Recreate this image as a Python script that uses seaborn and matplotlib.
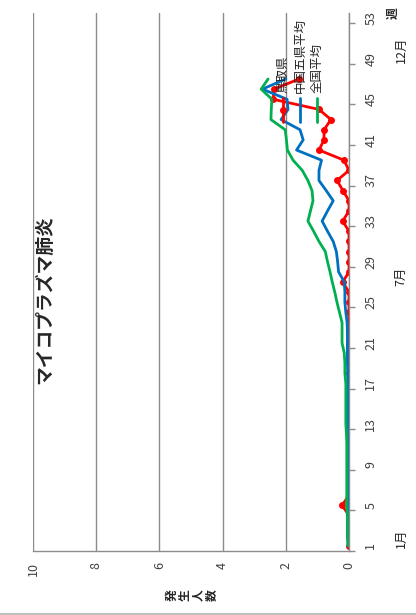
import matplotlib

matplotlib.use("Agg")
import matplotlib.pyplot as plt
import matplotlib.transforms as mtransforms
import numpy as np
import pandas as pd
import seaborn as sns

# weekly reports per sentinel, weeks 1-47
weeks = list(range(1, 48))
tottori = [0, 0, 0, 0, 0.22, 0, 0, 0, 0, 0,
           0, 0, 0, 0, 0, 0, 0, 0, 0, 0,
           0, 0, 0, 0, 0, 0, 0.2, 0, 0, 0,
           0, 0, 0.2, 0, 0, 0.19, 0.38, 0, 0.16, 0.95,
           0.79, 0.79, 0.57, 0.95, 2.4, 2.37, 1.58]
chugoku = [0.03, 0.03, 0.03, 0.03, 0.03, 0.03, 0.03, 0.03, 0.03, 0.03,
           0.03, 0.03, 0.04, 0.04, 0.04, 0.04, 0.04, 0.04, 0.05, 0.05,
           0.05, 0.05, 0.06, 0.1, 0.13, 0.13, 0.15, 0.33, 0.36, 0.4,
           0.5, 0.68, 0.85, 0.68, 0.5, 0.72, 0.95, 0.95, 0.87, 1.66,
           1.45, 1.55, 2.15, 1.93, 1.96, 2.74, 2.0]
national = [0.03, 0.05, 0.05, 0.05, 0.08, 0.07, 0.07, 0.07, 0.07, 0.07,
            0.07, 0.08, 0.1, 0.1, 0.1, 0.1, 0.1, 0.13, 0.13, 0.15,
            0.22, 0.22, 0.22, 0.3, 0.38, 0.45, 0.53, 0.6, 0.68, 0.75,
            0.95, 1.12, 1.3, 1.22, 1.14, 1.17, 1.3, 1.48, 1.77, 1.95,
            1.98, 2.02, 2.47, 2.46, 2.44, 2.78, 2.56]

series_names = ["鳥取県", "中国五県平均", "全国平均"]
series_colors = ["#ff0000", "#0070c0", "#00b050"]
value_ticks = [0, 2, 4, 6, 8, 10]
week_ticks = list(range(1, 54, 4))
month_labels = ["1月", "7月", "12月"]
month_weeks = [1.8, 27.6, 49.9]

df = pd.DataFrame({
    "week": weeks * 3,
    "count": tottori + chugoku + national,
    "series": [n for n in series_names for _ in weeks],
})

sns.set_theme(style="white")
plt.rcParams["font.family"] = ["Noto Sans CJK JP", "DejaVu Sans"]

W, H = 416, 615
fig = plt.figure(figsize=(W / 100, H / 100), dpi=100)
# the chart is drawn turned 90 degrees: values run right-to-left, weeks bottom-to-top
ax = fig.add_axes([33 / W, 1 - 551 / H, 316 / W, 538 / H])

grid_color = "#8c8c8c"
for name, color in zip(series_names, series_colors):
    sub = df[df["series"] == name]
    kw = dict(marker="o", markersize=5, markeredgewidth=0) if name == "鳥取県" else {}
    sns.lineplot(data=sub, x="count", y="week", orient="y", sort=False, ax=ax,
                 color=color, linewidth=2.0, legend=False, **kw)

ax.set_xlim(10, 0)
ax.set_ylim(0.5, 53.5)
ax.set_xlabel("")
ax.set_ylabel("")

ax.set_xticks(value_ticks)
ax.set_xticklabels([str(v) for v in value_ticks], rotation=90, fontsize=9,
                   color="#404040")
ax.xaxis.grid(True, color=grid_color, linewidth=1.0)
ax.yaxis.grid(False)
ax.tick_params(axis="x", length=0, pad=8)

ax.yaxis.tick_right()
ax.set_yticks(week_ticks)
ax.set_yticklabels([str(w) for w in week_ticks], rotation=90, va="center",
                   fontsize=9, color="#404040")
ax.set_yticks(np.arange(0.5, 54, 4), minor=True)
ax.tick_params(axis="y", which="major", length=0, pad=11)
ax.tick_params(axis="y", which="minor", right=True, length=4, width=1,
               color=grid_color, direction="out")

for side in ["top", "left"]:
    ax.spines[side].set_visible(False)
for side in ["right", "bottom"]:
    ax.spines[side].set_color(grid_color)
    ax.spines[side].set_linewidth(1.0)

# month labels beside the week axis
trans = mtransforms.blended_transform_factory(fig.transFigure, ax.transData)
for label, wk in zip(month_labels, month_weeks):
    ax.text(401 / W, wk, label, rotation=90, ha="center", va="center",
            fontsize=9, color="#222222", transform=trans, clip_on=False)

# legend, drawn turned like the rest of the chart
leg_x = [283, 300, 317]
for name, color, lx in zip(series_names, series_colors, leg_x):
    fig.add_artist(plt.Line2D([lx / W, lx / W], [1 - 122 / H, 1 - 98 / H],
                              color=color, linewidth=2.0))
    if name == "鳥取県":
        fig.add_artist(plt.Line2D([lx / W], [1 - 110 / H], color=color,
                                  marker="o", markersize=5, markeredgewidth=0))
    fig.text(lx / W, 1 - 93 / H, name, rotation=90, ha="center", va="bottom",
             fontsize=9, color="#222222")

fig.text(45 / W, 1 - 300 / H, "マイコプラズマ肺炎", rotation=90, ha="center",
         va="center", fontsize=13.5, fontweight="bold")
fig.text(192 / W, 1 - 595 / H, "発\n生\n人\n数", rotation=90, ha="center",
         va="center", fontsize=8.5, fontweight="bold", linespacing=1.0)
fig.text(393 / W, 1 - 13 / H, "週", rotation=90, ha="center", va="center",
         fontsize=8.5, fontweight="bold")

fig.add_artist(plt.Line2D([0, 1], [1 - 613.5 / H, 1 - 613.5 / H],
                          color="#bfbfbf", linewidth=1.5))

fig.savefig("out.png", dpi=100)
